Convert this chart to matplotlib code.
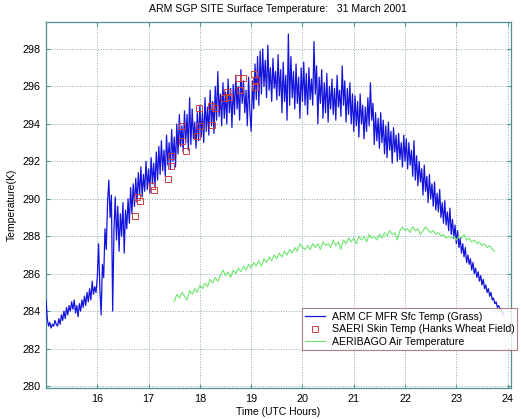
import numpy as np
import matplotlib
matplotlib.use("Agg")
import matplotlib.pyplot as plt

plt.rcParams['font.family'] = ['Liberation Sans', 'DejaVu Sans']

# ---- data ----
mfr_t0 = 15.0
mfr_dt = 0.025
mfr_temp = [
    # 15.0 - 16.0
    284.6, 283.6, 283.2, 283.4, 283.1, 283.3, 283.2, 283.5, 283.3, 283.2,
    283.6, 283.3, 283.8, 283.5, 284.0, 283.6, 284.2, 283.8, 284.3, 284.0,
    284.5, 284.1, 284.6, 283.9, 284.3, 283.7, 284.4, 284.0, 284.6, 284.2,
    284.8, 284.3, 285.0, 284.5, 285.2, 284.6, 285.6, 284.9, 285.3, 285.0,
    # 16.0 - 17.0
    285.8, 287.6, 285.2, 283.8, 286.5, 285.8, 288.4, 287.3, 289.8, 291.0,
    289.0, 290.2, 284.0, 288.3, 290.1, 287.8, 289.6, 287.2, 289.2, 288.0,
    289.8, 287.1, 289.4, 288.4, 290.0, 288.7, 290.6, 289.2, 290.8, 289.6,
    291.1, 289.8, 291.4, 290.2, 291.7, 290.1, 291.3, 290.4, 292.0, 290.5,
    # 17.0 - 18.0
    291.6, 290.3, 292.2, 290.8, 291.9, 290.6, 292.5, 291.0, 292.8, 291.3,
    293.1, 291.5, 292.6, 291.2, 293.4, 291.8, 293.0, 291.6, 293.7, 292.0,
    293.3, 291.7, 294.0, 292.4, 294.5, 292.8, 293.9, 292.5, 294.7, 293.0,
    294.5, 292.6, 295.4, 292.9, 294.8, 293.2, 294.1, 292.7, 294.6, 293.1,
    # 18.0 - 19.0
    295.0, 293.3, 294.6, 293.0, 295.4, 293.6, 294.9, 293.4, 295.8, 293.9,
    295.2, 293.5, 296.0, 294.2, 296.8, 294.4, 295.6, 293.9, 296.2, 294.3,
    295.7, 294.0, 296.4, 294.6, 295.9, 293.8, 296.1, 294.5, 296.6, 294.8,
    296.0, 294.2, 296.9, 295.1, 296.3, 294.6, 295.8, 293.9, 296.5, 294.7,
    # 19.0 - 20.0
    293.6, 296.3, 294.8, 297.2, 295.3, 297.6, 295.0, 297.9, 295.6, 298.0,
    296.0, 297.4, 295.4, 298.2, 295.8, 297.0, 295.2, 297.5, 295.9, 296.8,
    295.3, 297.7, 295.5, 296.9, 294.6, 297.3, 295.2, 296.6, 294.2, 298.8,
    295.0, 297.6, 295.4, 296.8, 294.8, 297.2, 295.1, 296.5, 294.3, 297.0,
    # 20.0 - 21.0
    295.2, 297.3, 295.0, 296.7, 294.5, 297.0, 295.3, 296.4, 295.0, 298.4,
    295.6, 297.1, 294.0, 296.5, 295.1, 296.9, 294.3, 296.2, 294.6, 296.7,
    294.1, 296.0, 294.8, 296.4, 294.5, 295.9, 294.2, 296.6, 294.9, 295.8,
    294.4, 297.1, 295.0, 296.3, 294.1, 295.9, 294.5, 296.2, 294.0, 295.6,
    # 21.0 - 22.0
    293.6, 295.5, 293.9, 295.2, 293.3, 295.6, 294.0, 295.0, 293.2, 294.9,
    293.6, 295.4, 293.9, 296.2, 294.2, 295.1, 292.9, 294.6, 293.1, 294.3,
    292.7, 294.6, 293.0, 294.2, 292.4, 293.9, 292.2, 294.1, 292.6, 293.6,
    291.9, 293.8, 292.5, 293.4, 292.0, 293.5, 292.1, 293.0, 291.7, 293.4,
    # 22.0 - 23.0
    292.0, 293.2, 291.6, 293.0, 291.8, 292.6, 291.2, 293.1, 291.0, 292.3,
    290.7, 292.0, 290.9, 291.6, 290.2, 291.8, 290.4, 291.2, 289.8, 291.3,
    290.0, 290.8, 289.6, 290.9, 289.4, 290.3, 289.3, 290.5, 289.0, 289.8,
    288.7, 289.9, 288.6, 289.3, 288.3, 289.5, 288.1, 288.9, 287.9, 288.6,
    # 23.0 - 23.925
    287.6, 288.3, 287.4, 287.9, 287.1, 287.6, 286.9, 287.4, 286.6, 287.0,
    286.5, 286.8, 286.2, 286.6, 286.0, 286.3, 285.8, 286.1, 285.6, 285.9,
    285.4, 285.7, 285.2, 285.4, 285.0, 285.2, 284.8, 285.0, 284.6, 284.7,
    284.4, 284.5, 284.2, 284.3, 284.1, 284.1, 283.9, 283.8,
]

saeri_time = [16.74, 16.78, 16.83, 17.06, 17.10, 17.37, 17.43, 17.44, 17.66, 17.66,
              17.72, 17.94, 17.98, 18.00, 18.21, 18.24, 18.29, 18.48, 18.52, 18.57,
              18.75, 18.79, 18.84, 19.05, 19.10, 19.07]
saeri_temp = [289.06, 290.11, 289.86, 290.70, 290.47, 291.06, 291.75, 292.29, 293.10, 293.90,
              292.57, 293.35, 294.87, 293.90, 294.96, 293.93, 294.85, 295.36, 295.69, 295.45,
              296.47, 295.80, 296.47, 296.67, 296.36, 295.99]

air_t0 = 17.5
air_dt = 0.05
air_temp = [
    284.5, 284.9, 284.7, 285.0, 284.8, 284.6, 285.1, 284.9, 285.2, 285.0,
    285.4, 285.2, 285.5, 285.3, 285.7, 285.5, 285.8, 285.6, 285.9, 286.2,
    285.9, 286.1, 285.8, 286.2, 286.0, 286.3, 286.1, 286.4, 286.2, 286.5,
    286.3, 286.6, 286.4, 286.7, 286.4, 286.8, 286.6, 286.9, 286.7, 287.0,
    286.8, 287.1, 286.9, 287.2, 287.0, 287.3, 287.1, 287.4, 287.2, 287.6,
    287.4, 287.3, 287.5, 287.3, 287.6, 287.4, 287.6, 287.3, 287.7, 287.5,
    287.6, 287.4, 287.8, 287.5, 287.7, 287.3, 287.8, 287.6, 287.9, 287.7,
    287.9, 287.6, 288.0, 287.8, 288.0, 287.7, 288.1, 287.9, 288.0, 287.8,
    288.1, 287.9, 288.2, 288.0, 288.3, 288.1, 288.2, 287.8, 288.3, 288.5,
    288.3, 288.4, 288.2, 288.5, 288.3, 288.4, 288.1, 288.3, 288.5, 288.3,
    288.2, 288.3, 288.1, 288.2, 288.0, 288.1, 287.9, 288.0, 287.9, 288.0,
    287.8, 288.0, 287.9, 288.1, 287.8, 287.9, 287.7, 287.8, 287.6, 287.7,
    287.5, 287.6, 287.4, 287.5, 287.3, 287.2,
]

x_ticks = [16, 17, 18, 19, 20, 21, 22, 23, 24]
y_ticks = [280, 282, 284, 286, 288, 290, 292, 294, 296, 298]

title = "ARM SGP SITE Surface Temperature:   31 March 2001"
labels = ["ARM CF MFR Sfc Temp (Grass)",
          "SAERI Skin Temp (Hanks Wheat Field)",
          "AERIBAGO Air Temperature"]

mfr_time = mfr_t0 + mfr_dt * np.arange(len(mfr_temp))
air_time = air_t0 + air_dt * np.arange(len(air_temp))

# ---- figure ----
fig = plt.figure(figsize=(5.21, 4.19), dpi=100)
ax = fig.add_axes([46 / 521, 1 - 388.3 / 419, (510.7 - 46) / 521, (388.3 - 21.7) / 419])

spine_col = '#4f8f8f'
ax.plot(mfr_time, mfr_temp, color='#1414dc', lw=0.9, label=labels[0], zorder=3)
ax.plot(saeri_time, saeri_temp, ls='none', marker='s', ms=4.2, mfc='none',
        mec='#cc4040', mew=0.7, label=labels[1], zorder=4)
ax.plot(air_time, air_temp, color='#6ee66e', lw=0.8, label=labels[2], zorder=3)

ax.set_xlim(15.0, 24.06)
ax.set_ylim(279.88, 299.46)
ax.set_xticks(x_ticks)
ax.set_yticks(y_ticks)
ax.tick_params(direction='in', length=3, labelsize=7.8, top=True, right=True,
               color=spine_col, pad=4)
ax.grid(True, ls=':', color='#8aa8b0', lw=0.7)
for s in ax.spines.values():
    s.set_color(spine_col)
    s.set_linewidth(0.9)

ax.set_title(title, fontsize=7.6, pad=7)
ax.set_xlabel("Time (UTC Hours)", fontsize=7.5, labelpad=2)
ax.set_ylabel("Temperature(K)", fontsize=7.5, labelpad=4)

leg = fig.legend(loc='lower left', bbox_to_anchor=(302 / 521, 1 - 350 / 419),
                 bbox_transform=fig.transFigure, fontsize=7.6, frameon=True,
                 fancybox=False, borderpad=0.3, labelspacing=0.25,
                 handlelength=1.9, handletextpad=0.6, borderaxespad=0)
leg.get_frame().set_edgecolor('#a06060')
leg.get_frame().set_linewidth(0.8)

fig.savefig("out.png", dpi=100)
